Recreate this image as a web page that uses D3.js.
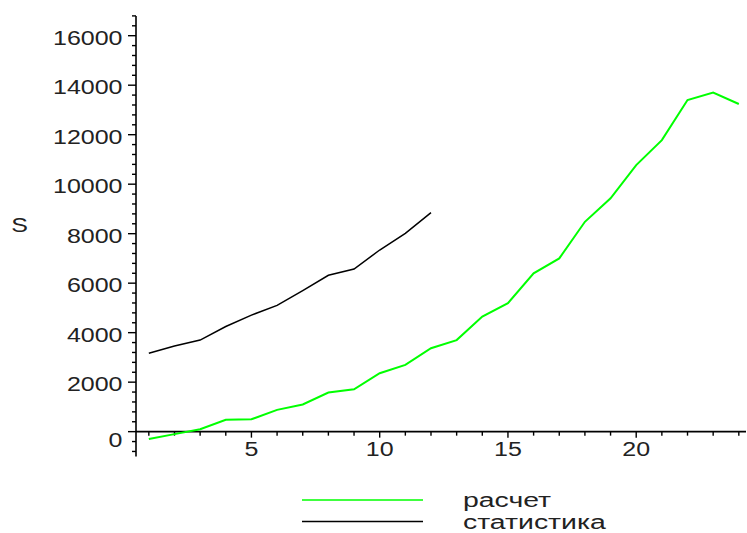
<!DOCTYPE html>
<html>
<head>
<meta charset="utf-8">
<script src="https://cdn.jsdelivr.net/npm/d3@7"></script>
<style>
  body { margin: 0; background: #fff; }
  svg { display: block; }
  text { font-family: "Liberation Sans", Arial, sans-serif; fill: #222; }
</style>
</head>
<body>
<div id="chart"></div>
<script>
const width = 747;
const height = 533;

// data
const years = d3.range(1, 25);
const raschet = [-300, -100, 100, 480, 500, 880, 1100, 1580, 1710, 2360, 2700, 3370,
  3700, 4650, 5190, 6400, 7000, 8480, 9430, 10770, 11780, 13400, 13700, 13240];
const statistika = [3170, 3460, 3700, 4250, 4710, 5100, 5700, 6320, 6570, 7340, 8010, 8850];
const yLabels = [0, 2000, 4000, 6000, 8000, 10000, 12000, 14000, 16000];
const xLabels = [5, 10, 15, 20];
const seriesNames = ["расчет", "статистика"];
const seriesColors = ["#00ff00", "#000000"];

const svg = d3.select("#chart")
  .append("svg")
  .attr("width", width)
  .attr("height", height);

const x = d3.scaleLinear().domain([0.5, 24.28]).range([136, 746]);
const y = d3.scaleLinear().domain([-1000, 16800]).range([456.4, 15.9]);

const sx = 1.25; // stretched look of the original font

// x axis (at y = 0)
const xAxis = svg.append("g")
  .attr("transform", `translate(0,${y(0)})`);
xAxis.append("line")
  .attr("x1", x.range()[0]).attr("x2", x.range()[1])
  .attr("stroke", "#000").attr("stroke-width", 1.6);
xAxis.selectAll(".xt")
  .data(years)
  .enter().append("line")
  .attr("x1", d => x(d)).attr("x2", d => x(d))
  .attr("y1", 0)
  .attr("y2", d => d % 5 === 0 ? 6 : 4)
  .attr("stroke", "#000").attr("stroke-width", 1.4);
xAxis.selectAll(".xl")
  .data(xLabels)
  .enter().append("text")
  .attr("transform", d => `translate(${x(d)},24.5) scale(${sx},1)`)
  .attr("text-anchor", "middle")
  .style("font-size", "20px")
  .text(d => d);

// y axis
const yAxis = svg.append("g")
  .attr("transform", `translate(${x(0.5)},0)`);
yAxis.append("line")
  .attr("y1", y.range()[0]).attr("y2", y.range()[1])
  .attr("stroke", "#000").attr("stroke-width", 1.6);
yAxis.selectAll(".yt")
  .data(d3.range(-800, 16801, 400))
  .enter().append("line")
  .attr("y1", d => y(d)).attr("y2", d => y(d))
  .attr("x1", 0)
  .attr("x2", d => d % 2000 === 0 ? -8 : -4)
  .attr("stroke", "#000").attr("stroke-width", 1.4);
yAxis.selectAll(".yl")
  .data(yLabels)
  .enter().append("text")
  .attr("transform", d => `translate(-13.5,${y(d) + (d === 0 ? 15 : 9)}) scale(${sx},1)`)
  .attr("text-anchor", "end")
  .style("font-size", "20px")
  .text(d => d);

// axis title
svg.append("text")
  .attr("transform", `translate(19.5,232) scale(${sx},1)`)
  .attr("text-anchor", "middle")
  .style("font-size", "20px")
  .text("S");

// lines
const line = d3.line()
  .x((d, i) => x(years[i]))
  .y(d => y(d));

svg.append("path")
  .datum(raschet)
  .attr("fill", "none")
  .attr("stroke", seriesColors[0])
  .attr("stroke-width", 2)
  .attr("d", line);

svg.append("path")
  .datum(statistika)
  .attr("fill", "none")
  .attr("stroke", seriesColors[1])
  .attr("stroke-width", 1.5)
  .attr("d", line);

// legend
const legend = svg.append("g");
const ly = [500, 521.5];
seriesNames.forEach((name, i) => {
  legend.append("line")
    .attr("x1", 302).attr("x2", 423)
    .attr("y1", ly[i]).attr("y2", ly[i])
    .attr("stroke", seriesColors[i])
    .attr("stroke-width", 1.5);
  legend.append("text")
    .attr("transform", `translate(463,${ly[i] + 7}) scale(1.42,1)`)
    .style("font-size", "20px")
    .text(name);
});
</script>
</body>
</html>
